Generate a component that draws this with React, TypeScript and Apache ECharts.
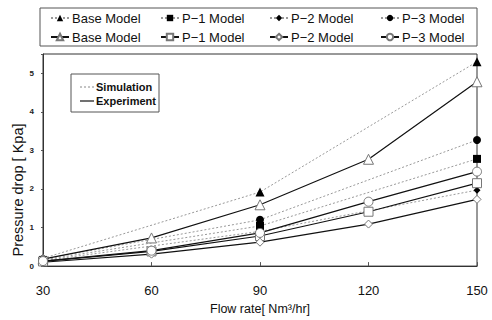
import React, { useEffect, useRef } from "react";
import * as echarts from "echarts";

const models = ["Base Model", "P\u22121 Model", "P\u22122 Model", "P\u22123 Model"];
const symbols = ["triangle", "rect", "diamond", "circle"];
const symbolSizes = [9, 8, 7, 8];

const simFlow = [30, 90, 150];
const simBase = [0.2, 1.92, 5.3];
const simP1 = [0.16, 1.04, 2.78];
const simP2 = [0.14, 0.9, 1.97];
const simP3 = [0.18, 1.2, 3.27];

const expFlow = [30, 60, 90, 120, 150];
const expBase = [0.18, 0.73, 1.59, 2.77, 4.78];
const expP1 = [0.12, 0.38, 0.78, 1.41, 2.15];
const expP2 = [0.1, 0.31, 0.62, 1.09, 1.73];
const expP3 = [0.13, 0.4, 0.86, 1.67, 2.45];

const xTicks = [30, 60, 90, 120, 150];
const yTicks = [0, 1, 2, 3, 4, 5];

const simSets = [simBase, simP1, simP2, simP3];
const expSets = [expBase, expP1, expP2, expP3];

const FONT = "'Liberation Sans', Arial, sans-serif";

export default function App() {
  const ref = useRef<HTMLDivElement>(null);
  useEffect(() => {
    if (!ref.current) return;
    const chart = echarts.init(ref.current, null, { renderer: "svg" });
    const series: any[] = [];
    models.forEach((m, i) => {
      series.push({
        type: "line",
        name: "s|" + m,
        data: simFlow.map((x, j) => [x, simSets[i][j]]),
        symbol: symbols[i],
        symbolSize: symbolSizes[i],
        itemStyle: { color: "#000", borderColor: "#000", borderWidth: 0 },
        lineStyle: { color: "#999", type: [2, 2], width: 1 },
        z: 2,
      });
      series.push({
        type: "line",
        name: "e|" + m,
        data: expFlow.map((x, j) => [x, expSets[i][j]]),
        symbol: symbols[i],
        symbolSize: symbolSizes[i] + 1,
        itemStyle: { color: "#fff", borderColor: "#777", borderWidth: 1 },
        lineStyle: { color: "#111", type: "solid", width: 1.2 },
        z: 3,
      });
    });
    const colLeft = [50, 160, 269, 380];
    const legends = models.map((m, i) => ({
      orient: "vertical",
      left: colLeft[i],
      top: 11,
      itemWidth: 18,
      itemHeight: 8,
      itemGap: 5,
      padding: 0,
      selectedMode: false,
      data: ["s|" + m, "e|" + m],
      formatter: (n: string) => n.split("|")[1],
      textStyle: { fontFamily: FONT, fontSize: 13, color: "#111", lineHeight: 14, padding: [0, 0, 0, -2] },
    }));
    chart.setOption({
      animation: false,
      backgroundColor: "#fff",
      textStyle: { fontFamily: FONT },
      grid: { left: 43, right: 15, top: 54, bottom: 38, show: true, borderColor: "#333", borderWidth: 1, backgroundColor: "transparent" },
      legend: legends,
      xAxis: {
        type: "value",
        min: 30,
        max: 150,
        interval: 30,
        name: "Flow rate[ Nm\u00b3/hr]",
        nameLocation: "middle",
        nameGap: 30,
        nameTextStyle: { fontFamily: FONT, fontSize: 12.5, color: "#111" },
        axisLine: { lineStyle: { color: "#333", width: 1 } },
        axisTick: { inside: true, length: 4, lineStyle: { color: "#555" } },
        axisLabel: {
          fontFamily: FONT,
          fontSize: 13,
          color: "#111",
          margin: 18,
          formatter: (v: number) => (xTicks.includes(v) ? String(v) : ""),
        },
        splitLine: { show: false },
      },
      yAxis: {
        type: "value",
        min: 0,
        max: 5.5,
        interval: 1,
        axisLine: { show: true, lineStyle: { color: "#333", width: 1 } },
        axisTick: { show: true, inside: false, length: 2, lineStyle: { color: "#555" } },
        axisLabel: {
          fontFamily: FONT,
          fontSize: 8,
          fontWeight: "bold",
          color: "#222",
          margin: 9,
          formatter: (v: number) => (yTicks.includes(v) ? String(v) : ""),
        },
        splitLine: { show: false },
      },
      graphic: [
        { type: "text", x: 18, y: 190, rotation: Math.PI / 2, style: { text: "Pressure drop [ Kpa]", font: "14.5px " + FONT, fill: "#111", align: "center", verticalAlign: "middle" } },
        { type: "rect", shape: { x: 40, y: 8, width: 437, height: 38 }, style: { fill: "none", stroke: "#555", lineWidth: 1 }, silent: true },
        { type: "rect", shape: { x: 71, y: 74, width: 88, height: 38 }, style: { fill: "#fff", stroke: "#555", lineWidth: 1 }, z: 10, silent: true },
        { type: "line", shape: { x1: 80, y1: 87, x2: 94, y2: 87 }, style: { stroke: "#888", lineWidth: 1, lineDash: [2, 2] }, z: 11 },
        { type: "line", shape: { x1: 80, y1: 101, x2: 94, y2: 101 }, style: { stroke: "#111", lineWidth: 1.2 }, z: 11 },
        { type: "text", x: 96, y: 87, style: { text: "Simulation", font: "bold 11px " + FONT, fill: "#111", verticalAlign: "middle" }, z: 11 },
        { type: "text", x: 96, y: 101, style: { text: "Experiment", font: "bold 11px " + FONT, fill: "#111", verticalAlign: "middle" }, z: 11 },
      ],
      series,
    });
    return () => chart.dispose();
  }, []);
  return <div ref={ref} style={{ width: 492, height: 320, position: "absolute", left: 0, top: 0 }} />;
}
